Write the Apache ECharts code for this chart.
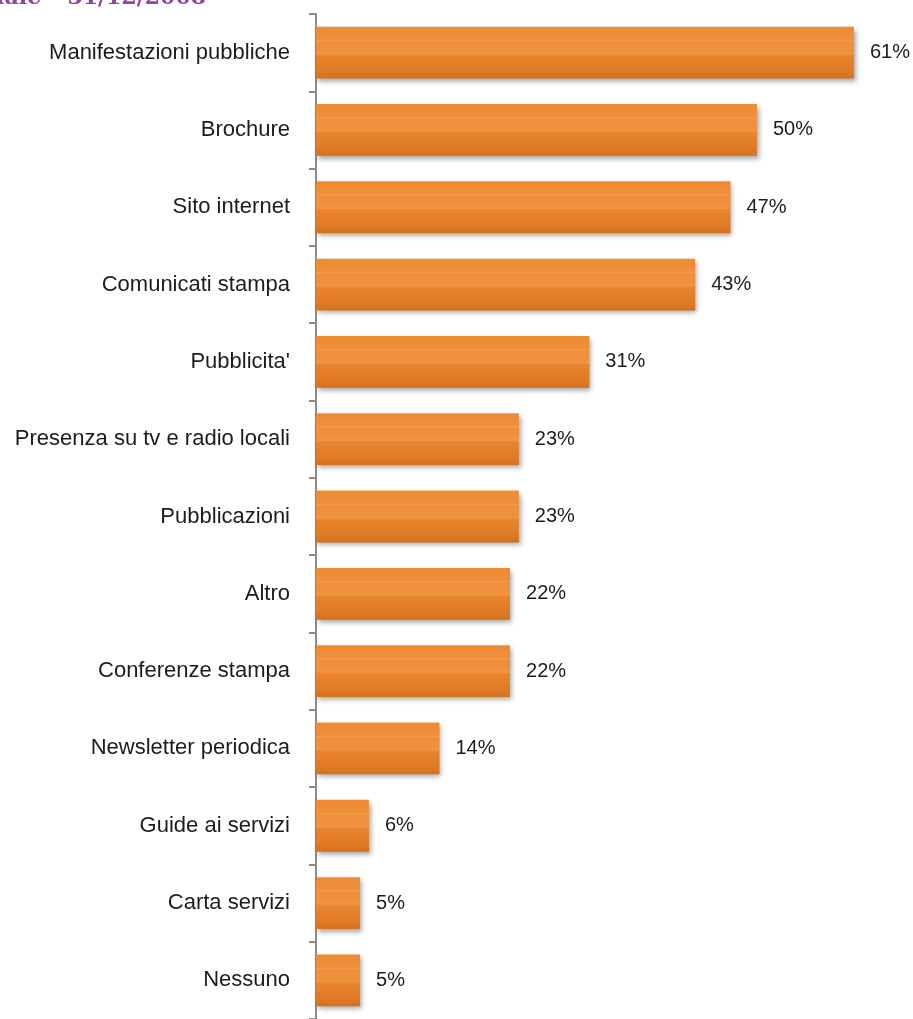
<!DOCTYPE html>
<html>
<head>
<meta charset="utf-8">
<script src="https://cdn.jsdelivr.net/npm/echarts@6/dist/echarts.min.js"></script>
<style>
  html, body { margin: 0; padding: 0; background: #ffffff; }
  #chart { width: 913px; height: 1019px; }
</style>
</head>
<body>
<div id="chart"></div>
<script>
// Strumenti di comunicazione utilizzati (% di risposte)
const categories = [
  'Manifestazioni pubbliche',
  'Brochure',
  'Sito internet',
  'Comunicati stampa',
  "Pubblicita'",
  'Presenza su tv e radio locali',
  'Pubblicazioni',
  'Altro',
  'Conferenze stampa',
  'Newsletter periodica',
  'Guide ai servizi',
  'Carta servizi',
  'Nessuno'
];
const values = [61, 50, 47, 43, 31, 23, 23, 22, 22, 14, 6, 5, 5];
const headerText = 'Rilevazione annuale – 31/12/2008';

const chart = echarts.init(document.getElementById('chart'), null, { renderer: 'canvas' });

const barFill = new echarts.graphic.LinearGradient(0, 0, 0, 1, [
  { offset: 0.00, color: '#EE8A32' },
  { offset: 0.24, color: '#F0903C' },
  { offset: 0.27, color: '#F29B4E' },
  { offset: 0.30, color: '#EF8E38' },
  { offset: 0.49, color: '#EF9140' },
  { offset: 0.52, color: '#F09848' },
  { offset: 0.55, color: '#E9852D' },
  { offset: 0.85, color: '#DF7A25' },
  { offset: 1.00, color: '#D4711F' }
]);

chart.setOption({
  backgroundColor: '#ffffff',
  animation: false,
  graphic: [{
    type: 'text',
    right: 913 - 206,
    top: -13,
    style: {
      text: headerText,
      font: 'bold 22px "DejaVu Serif", serif',
      fill: '#8E47A6'
    }
  }],
  grid: { left: 316, top: 14, right: 0, height: 1007.5, containLabel: false },
  xAxis: {
    type: 'value',
    min: 0,
    max: 67.7,
    show: false
  },
  yAxis: {
    type: 'category',
    inverse: true,
    data: categories,
    axisLine: { show: true, lineStyle: { color: '#8C8C8C', width: 2 } },
    axisTick: { show: true, length: 7, lineStyle: { color: '#8C8C8C', width: 2 } },
    axisLabel: {
      margin: 26,
      fontFamily: '"Liberation Sans", Arial, sans-serif',
      fontSize: 22,
      color: '#1c1c1c'
    },
    splitLine: { show: false }
  },
  series: [{
    type: 'bar',
    data: values,
    barCategoryGap: '33%',
    itemStyle: {
      color: barFill,
      shadowColor: 'rgba(0,0,0,0.35)',
      shadowBlur: 5,
      shadowOffsetX: 2,
      shadowOffsetY: 3
    },
    label: {
      show: true,
      position: 'right',
      distance: 16,
      formatter: '{c}%',
      fontFamily: '"Liberation Sans", Arial, sans-serif',
      fontSize: 20,
      color: '#1c1c1c'
    }
  }]
});
</script>
</body>
</html>
